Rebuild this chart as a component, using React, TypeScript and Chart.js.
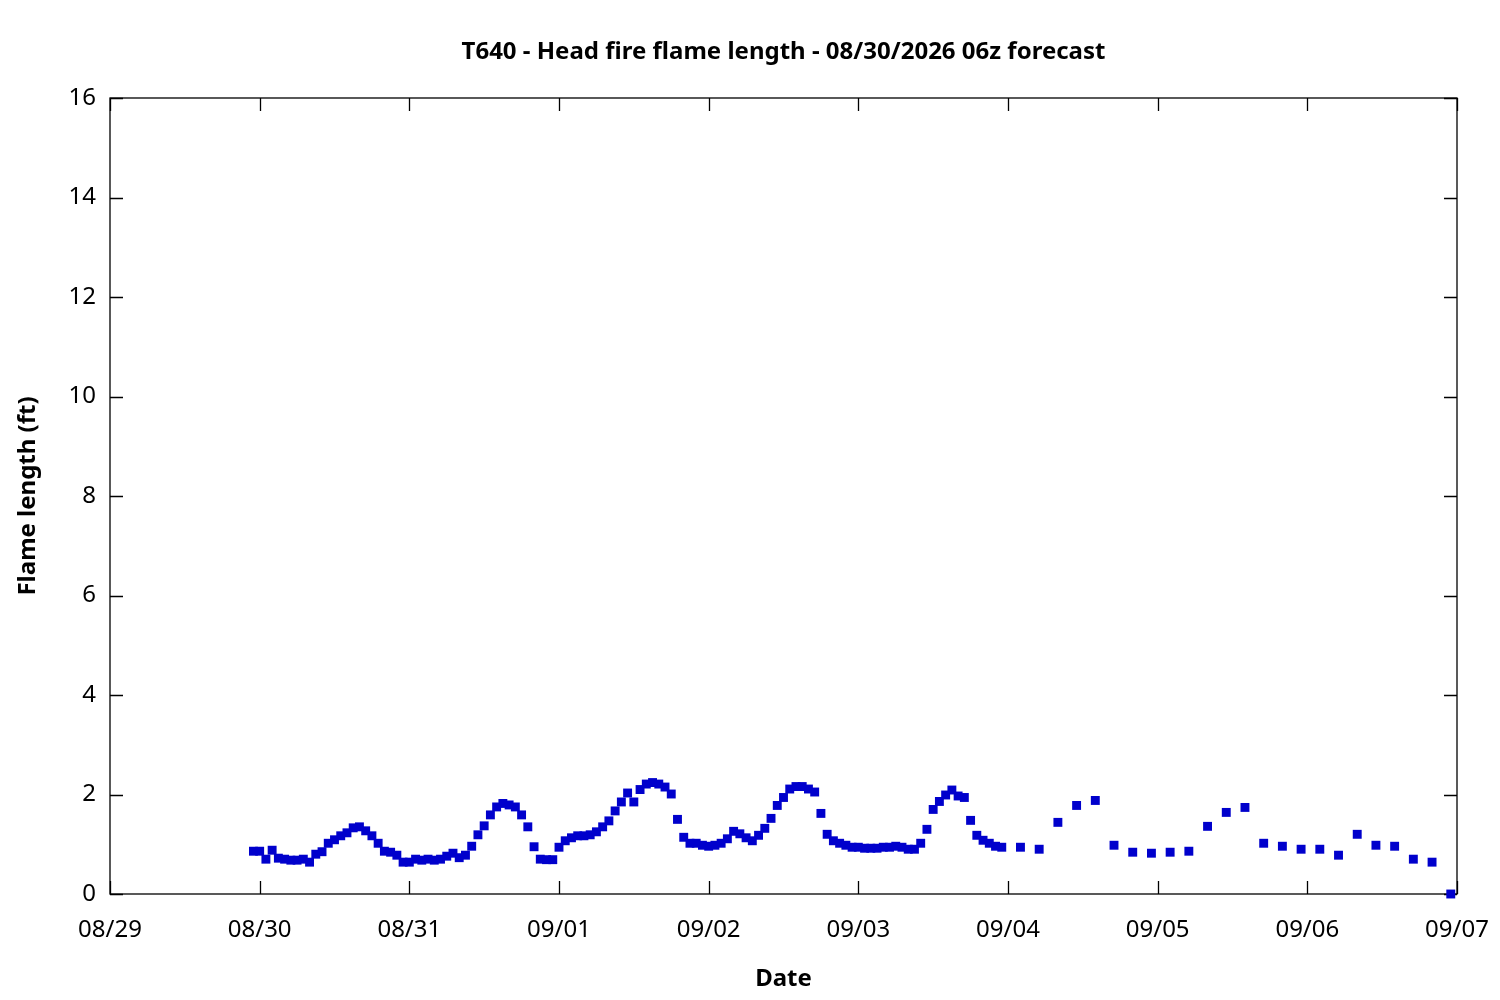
import { useEffect, useRef } from 'react';
import { Chart, registerables } from 'chart.js';

Chart.register(...registerables);

// x values are hours since 08/29 00:00
const dayLabels = ['08/29', '08/30', '08/31', '09/01', '09/02', '09/03', '09/04', '09/05', '09/06', '09/07'];

// hourly forecast, starting 08/29 23:00
const hourlyStart = 23;
const flame0829 = [0.86];
const flame0830 = [
  0.86, 0.70, 0.88, 0.72, 0.70, 0.68, 0.68, 0.70, 0.64, 0.80, 0.85, 1.02,
  1.09, 1.17, 1.23, 1.33, 1.35, 1.27, 1.17, 1.02, 0.86, 0.84, 0.78, 0.64,
];
const flame0831 = [
  0.64, 0.70, 0.68, 0.70, 0.68, 0.70, 0.76, 0.82, 0.73, 0.78, 0.96, 1.19,
  1.37, 1.59, 1.75, 1.82, 1.79, 1.75, 1.59, 1.35, 0.95, 0.70, 0.69, 0.69,
];
const flame0901 = [
  0.94, 1.07, 1.13, 1.17, 1.17, 1.19, 1.25, 1.35, 1.47, 1.67, 1.85, 2.03,
  1.85, 2.10, 2.21, 2.24, 2.21, 2.15, 2.01, 1.50, 1.14, 1.02, 1.02, 0.98,
];
const flame0902 = [
  0.96, 0.98, 1.02, 1.11, 1.26, 1.21, 1.13, 1.07, 1.18, 1.32, 1.52, 1.78,
  1.94, 2.11, 2.16, 2.16, 2.11, 2.05, 1.62, 1.20, 1.07, 1.02, 0.98, 0.94,
];
const flame0903 = [
  0.94, 0.92, 0.92, 0.92, 0.94, 0.94, 0.96, 0.94, 0.90, 0.90, 1.02, 1.30,
  1.70, 1.86, 1.99, 2.09, 1.97, 1.94, 1.48, 1.18, 1.08, 1.02, 0.96, 0.94,
];

// 3-hourly forecast, starting 09/04 02:00
const threeHourlyStart = 146;
const flameLater = [
  0.94, 0.90, 1.44, 1.78, 1.88, 0.98, 0.84, 0.82,
  0.84, 0.86, 1.36, 1.64, 1.74, 1.02, 0.96, 0.90,
  0.90, 0.78, 1.20, 0.98, 0.96, 0.70, 0.64, 0.00,
];

const yTicks = [0, 2, 4, 6, 8, 10, 12, 14, 16];

const hourly = [...flame0829, ...flame0830, ...flame0831, ...flame0901, ...flame0902, ...flame0903];
const points = [
  ...hourly.map((v, i) => ({ x: hourlyStart + i, y: v })),
  ...flameLater.map((v, i) => ({ x: threeHourlyStart + i * 3, y: v })),
];

const FONT = 'Noto Sans';
const TICK = 13;

// gnuplot-like box with inward ticks on all four sides
const framePlugin = {
  id: 'frame',
  beforeDatasetsDraw(chart: Chart) {
    const { ctx, chartArea } = chart;
    const { left, right, top, bottom } = chartArea;
    const xs = chart.scales.x;
    const ys = chart.scales.y;
    ctx.save();
    ctx.strokeStyle = '#000';
    ctx.lineWidth = 1.3;
    ctx.beginPath();
    ys.ticks.forEach((t) => {
      const py = Math.round(ys.getPixelForValue(t.value)) + 0.5;
      ctx.moveTo(left, py); ctx.lineTo(left + TICK, py);
      ctx.moveTo(right, py); ctx.lineTo(right - TICK, py);
    });
    xs.ticks.forEach((t) => {
      const px = Math.round(xs.getPixelForValue(t.value)) + 0.5;
      ctx.moveTo(px, bottom); ctx.lineTo(px, bottom - TICK);
      ctx.moveTo(px, top); ctx.lineTo(px, top + TICK);
    });
    ctx.stroke();
    ctx.strokeRect(left, top, right - left, bottom - top);
    ctx.restore();
  },
};

export default function App() {
  const canvasRef = useRef<HTMLCanvasElement>(null);

  useEffect(() => {
    if (!canvasRef.current) return;
    const chart = new Chart(canvasRef.current, {
      type: 'scatter',
      data: {
        datasets: [{
          data: points,
          pointStyle: 'rect',
          pointRadius: 6.3,
          borderWidth: 0,
          backgroundColor: '#0000cc',
          borderColor: '#0000cc',
          clip: false,
        }],
      },
      options: {
        animation: false,
        responsive: true,
        maintainAspectRatio: false,
        layout: { padding: { left: 0, right: 43, top: 0, bottom: 0 } },
        plugins: {
          legend: { display: false },
          tooltip: { enabled: false },
          title: {
            display: true,
            fullSize: false,
            text: 'T640 - Head fire flame length - 08/30/2026 06z forecast',
            color: '#000',
            font: { family: FONT, size: 24, weight: 'bold', lineHeight: 1.2 },
            padding: { top: 37.6, bottom: 31.6 },
          },
        },
        scales: {
          x: {
            type: 'linear',
            min: 0,
            max: 216,
            afterFit: (s) => { s.height = 106; s.paddingLeft = 0; s.paddingRight = 0; },
            afterBuildTicks: (s) => { s.ticks = dayLabels.map((_, i) => ({ value: i * 24 })); },
            grid: { display: false, drawTicks: false },
            border: { display: false },
            ticks: {
              color: '#000',
              padding: 22,
              maxRotation: 0,
              autoSkip: false,
              font: { family: FONT, size: 24 },
              callback: (v) => dayLabels[Math.round(Number(v) / 24)],
            },
            title: {
              display: true,
              text: 'Date',
              color: '#000',
              font: { family: FONT, size: 24, weight: 'bold', lineHeight: 1.2 },
              padding: { top: 0, bottom: 6.6 },
            },
          },
          y: {
            min: 0,
            max: 16,
            afterFit: (s) => { s.width = 110; s.paddingTop = 0; s.paddingBottom = 0; },
            afterBuildTicks: (s) => { s.ticks = yTicks.map((v) => ({ value: v })); },
            grid: { display: false, drawTicks: false },
            border: { display: false },
            ticks: {
              color: '#000',
              padding: 14,
              font: { family: FONT, size: 24 },
            },
            title: {
              display: true,
              text: 'Flame length (ft)',
              color: '#000',
              font: { family: FONT, size: 24, weight: 'bold', lineHeight: 1.2 },
              padding: { top: 13.6, bottom: 0 },
            },
          },
        },
      },
      plugins: [framePlugin],
    } as never);
    return () => { chart.destroy(); };
  }, []);

  return (
    <div style={{ position: 'absolute', left: 0, top: 0, width: 1500, height: 1000, background: '#fff' }}>
      <canvas ref={canvasRef} />
    </div>
  );
}
